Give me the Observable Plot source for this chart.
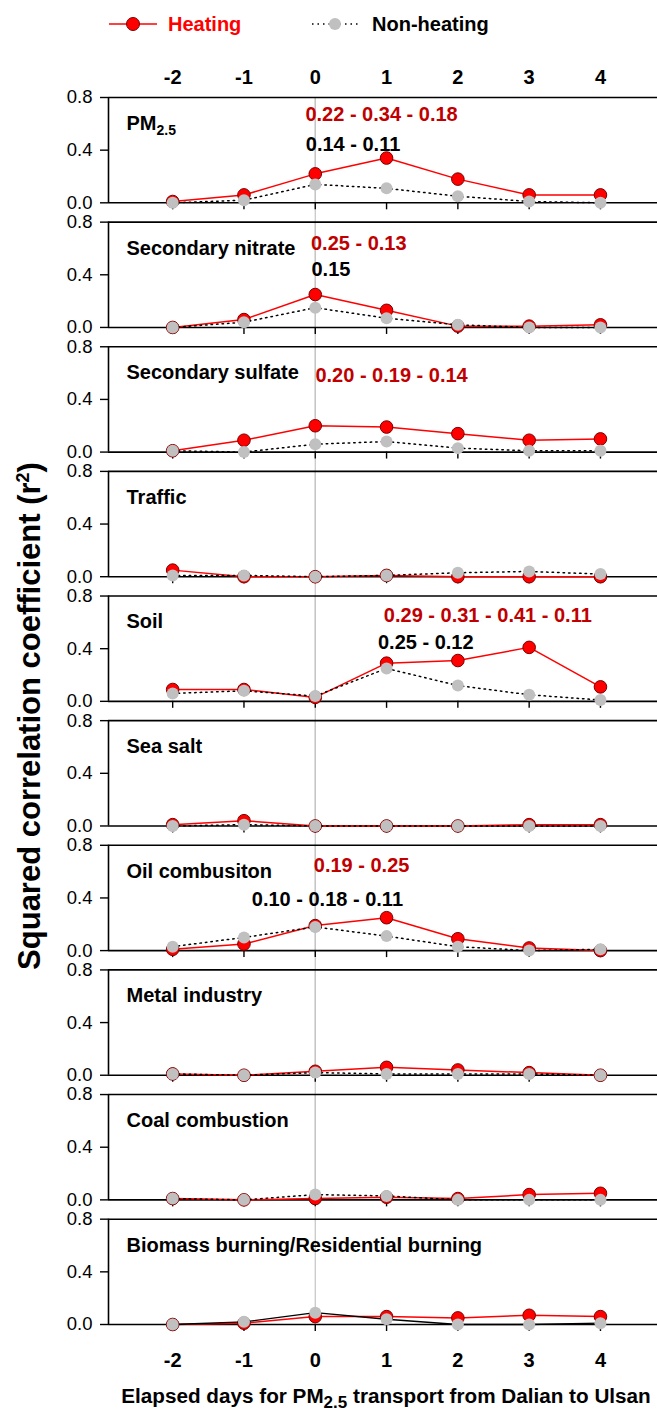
<!DOCTYPE html>
<html>
<head>
<meta charset="utf-8">
<script src="https://cdn.jsdelivr.net/npm/d3@7"></script>
<script src="https://cdn.jsdelivr.net/npm/@observablehq/plot@0.6"></script>
<style>
  html, body { margin: 0; padding: 0; background: #fff; overflow: hidden; }
  #wrap { position: relative; width: 657px; height: 1413px; font-family: "Liberation Sans", Arial, sans-serif; }
  #chart { position: absolute; left: 0; top: 0; }
  #legend { position: absolute; left: 0; top: 0; width: 657px; height: 48px; }
  .leg { position: absolute; top: 12px; height: 24px; display: flex; align-items: center; font-weight: bold; font-size: 20px; }
  #ytitle { position: absolute; left: 30px; top: 716px; transform: translate(-50%, -50%) rotate(-90deg); white-space: nowrap; font-weight: bold; font-size: 31px; }
  #ytitle sup { font-size: 18px; }
  #xtitle { position: absolute; left: 386px; top: 1398px; transform: translate(-50%, -50%); white-space: nowrap; font-weight: bold; font-size: 20.7px; }
  #xtitle sub { font-size: 17px; vertical-align: -5px; }
</style>
</head>
<body>
<div id="wrap">
  <div id="chart"></div>
  <div id="legend">
    <div class="leg" style="left:108px;color:#ff0000;">
      <svg width="50" height="24"><line x1="1" y1="12" x2="49" y2="12" stroke="#ff0000" stroke-width="1.5"/><circle cx="25" cy="12" r="6.5" fill="#ff0000" stroke="#7a0000" stroke-width="1"/></svg>
      <span style="margin-left:10px">Heating</span>
    </div>
    <div class="leg" style="left:311px;color:#000;">
      <svg width="48" height="24"><line x1="1" y1="12" x2="47" y2="12" stroke="#000" stroke-width="1.5" stroke-dasharray="1.5,4"/><circle cx="24" cy="12" r="6" fill="#c0c0c0"/></svg>
      <span style="margin-left:13px">Non-heating</span>
    </div>
  </div>
  <div id="ytitle">Squared correlation coefficient (r<sup>2</sup>)</div>
  <div id="xtitle">Elapsed days for PM<sub>2.5</sub> transport from Dalian to Ulsan</div>
</div>
<script>
// ---- data ----
const days = [-2, -1, 0, 1, 2, 3, 4];
const sources = [
  "PM2.5", "Secondary nitrate", "Secondary sulfate", "Traffic", "Soil",
  "Sea salt", "Oil combusiton", "Metal industry", "Coal combustion",
  "Biomass burning/Residential burning"
];
const heating = [
  [0.01, 0.06, 0.22, 0.34, 0.18, 0.06, 0.06],
  [0.00, 0.06, 0.25, 0.13, 0.01, 0.01, 0.02],
  [0.01, 0.09, 0.20, 0.19, 0.14, 0.09, 0.10],
  [0.05, 0.00, 0.00, 0.01, 0.00, 0.00, 0.00],
  [0.09, 0.09, 0.03, 0.29, 0.31, 0.41, 0.11],
  [0.01, 0.04, 0.00, 0.00, 0.00, 0.01, 0.01],
  [0.01, 0.05, 0.19, 0.25, 0.09, 0.02, 0.00],
  [0.01, 0.00, 0.03, 0.06, 0.04, 0.02, 0.00],
  [0.01, 0.00, 0.01, 0.02, 0.01, 0.04, 0.05],
  [0.00, 0.01, 0.06, 0.06, 0.05, 0.07, 0.06]
];
const nonHeating = [
  [0.00, 0.02, 0.14, 0.11, 0.05, 0.01, 0.00],
  [0.00, 0.04, 0.15, 0.07, 0.02, 0.00, 0.00],
  [0.01, 0.00, 0.06, 0.08, 0.03, 0.01, 0.01],
  [0.01, 0.01, 0.00, 0.01, 0.03, 0.04, 0.02],
  [0.06, 0.08, 0.04, 0.25, 0.12, 0.05, 0.01],
  [0.00, 0.01, 0.00, 0.00, 0.00, 0.00, 0.00],
  [0.03, 0.10, 0.18, 0.11, 0.03, 0.00, 0.01],
  [0.01, 0.00, 0.02, 0.01, 0.01, 0.01, 0.00],
  [0.01, 0.00, 0.04, 0.03, 0.00, 0.00, 0.00],
  [0.00, 0.02, 0.09, 0.04, 0.00, 0.00, 0.01]
];
const yTicks = [0, 0.4, 0.8];
const xDomain = [-2.9, 4.8];
// annotations (text centred on day, at r² level)
const annoSource = ["PM2.5", "PM2.5", "Secondary nitrate", "Secondary nitrate", "Secondary sulfate", "Soil", "Soil", "Oil combusiton", "Oil combusiton"];
const annoText = ["0.22 - 0.34 - 0.18", "0.14 - 0.11", "0.25 - 0.13", "0.15", "0.20 - 0.19 - 0.14", "0.29 - 0.31 - 0.41 - 0.11", "0.25 - 0.12", "0.19 - 0.25", "0.10 - 0.18 - 0.11"];
const annoSeries = ["Heating", "Non-heating", "Heating", "Non-heating", "Heating", "Heating", "Non-heating", "Heating", "Non-heating"];
const annoDay = [0.93, 0.53, 0.61, 0.22, 1.07, 2.42, 1.55, 0.65, 0.17];
const annoLevel = [0.67, 0.444, 0.64, 0.437, 0.579, 0.648, 0.444, 0.642, 0.388];

// ---- tables ----
const H = [], N = [];
sources.forEach((s, i) => days.forEach((d, j) => {
  H.push({source: s, day: d, value: heating[i][j]});
  N.push({source: s, day: d, value: nonHeating[i][j]});
}));
const lastSource = sources[sources.length - 1];
const annos = annoText.map((t, i) => ({source: annoSource[i], text: t, series: annoSeries[i], day: annoDay[i], level: annoLevel[i]}));
const fmtDay = d => String(d).replace("\u2212", "-");

const plot = Plot.plot({
  width: 657,
  height: 1380,
  marginLeft: 108,
  marginRight: 0,
  marginTop: 97,
  marginBottom: 56,
  style: {fontFamily: "'Liberation Sans', Arial, sans-serif", fontSize: "20px", color: "#000", background: "transparent", overflow: "visible"},
  x: {domain: xDomain, axis: null},
  y: {domain: [0, 0.8], axis: null},
  fy: {domain: sources, paddingInner: 0.155, paddingOuter: 0, round: false, axis: null, label: null},
  marks: [
    Plot.ruleX(sources, {x: () => 0, fy: d => d, stroke: "#c4c4c4", strokeWidth: 1.2}),
    Plot.ruleX(sources.slice(0, -1), {x: () => 0, fy: d => d, stroke: "#c4c4c4", strokeWidth: 1.2, insetBottom: -21}),
    Plot.ruleY([0, 0.8], {stroke: "#000", strokeWidth: 1.6}),
    Plot.ruleX([xDomain[0]], {stroke: "#000", strokeWidth: 1.6}),
    Plot.axisY(yTicks, {tickSize: 8, tickPadding: 8, tickFormat: d3.format(".1f"), fontSize: 18.5, strokeWidth: 1.4, label: null}),
    Plot.axisX(days, {anchor: "bottom", tickSize: 7, tickFormat: () => "", facetAnchor: null, strokeWidth: 1.4, label: null}),
    Plot.axisX(days, {anchor: "top", facetAnchor: "top", tickSize: 0, tickPadding: 14, fontWeight: "bold", fontSize: 20, tickFormat: fmtDay, label: null}),
    Plot.axisX(days, {anchor: "bottom", facetAnchor: "bottom", tickSize: 0, tickPadding: 28, fontWeight: "bold", fontSize: 20, tickFormat: fmtDay, label: null}),
    Plot.text(sources, {fy: d => d, text: d => d, frameAnchor: "top-left", dx: 18, dy: 26, lineAnchor: "middle", textAnchor: "start", fontWeight: "bold", fontSize: 20, fill: "#000"}),
    Plot.line(H, {x: "day", y: "value", fy: "source", stroke: "#ff0000", strokeWidth: 1.5}),
    Plot.dot(H, {x: "day", y: "value", fy: "source", r: 6.3, fill: "#ff0000", stroke: "#7a0000", strokeWidth: 1}),
    Plot.line(N.filter(d => d.source !== lastSource), {x: "day", y: "value", fy: "source", stroke: "#000", strokeWidth: 1.5, strokeDasharray: "1.5,4"}),
    Plot.line(N.filter(d => d.source === lastSource), {x: "day", y: "value", fy: "source", stroke: "#000", strokeWidth: 1.3}),
    Plot.dot(N, {x: "day", y: "value", fy: "source", r: 6, fill: "#c0c0c0", stroke: "none"}),
    Plot.text(annos, {x: "day", y: "level", fy: "source", text: "text", fill: d => d.series === "Heating" ? "#c00000" : "#000", fontWeight: "bold", fontSize: 20, lineAnchor: "middle"})
  ]
});

// subscript for PM2.5 panel label
d3.select(plot).selectAll("text").filter(function() { return this.textContent === "PM2.5"; }).each(function() {
  const t = d3.select(this);
  t.text(null);
  t.append("tspan").text("PM");
  t.append("tspan").attr("font-size", "14px").attr("dy", "0.35em").text("2.5");
});

document.getElementById("chart").appendChild(plot);
</script>
</body>
</html>
